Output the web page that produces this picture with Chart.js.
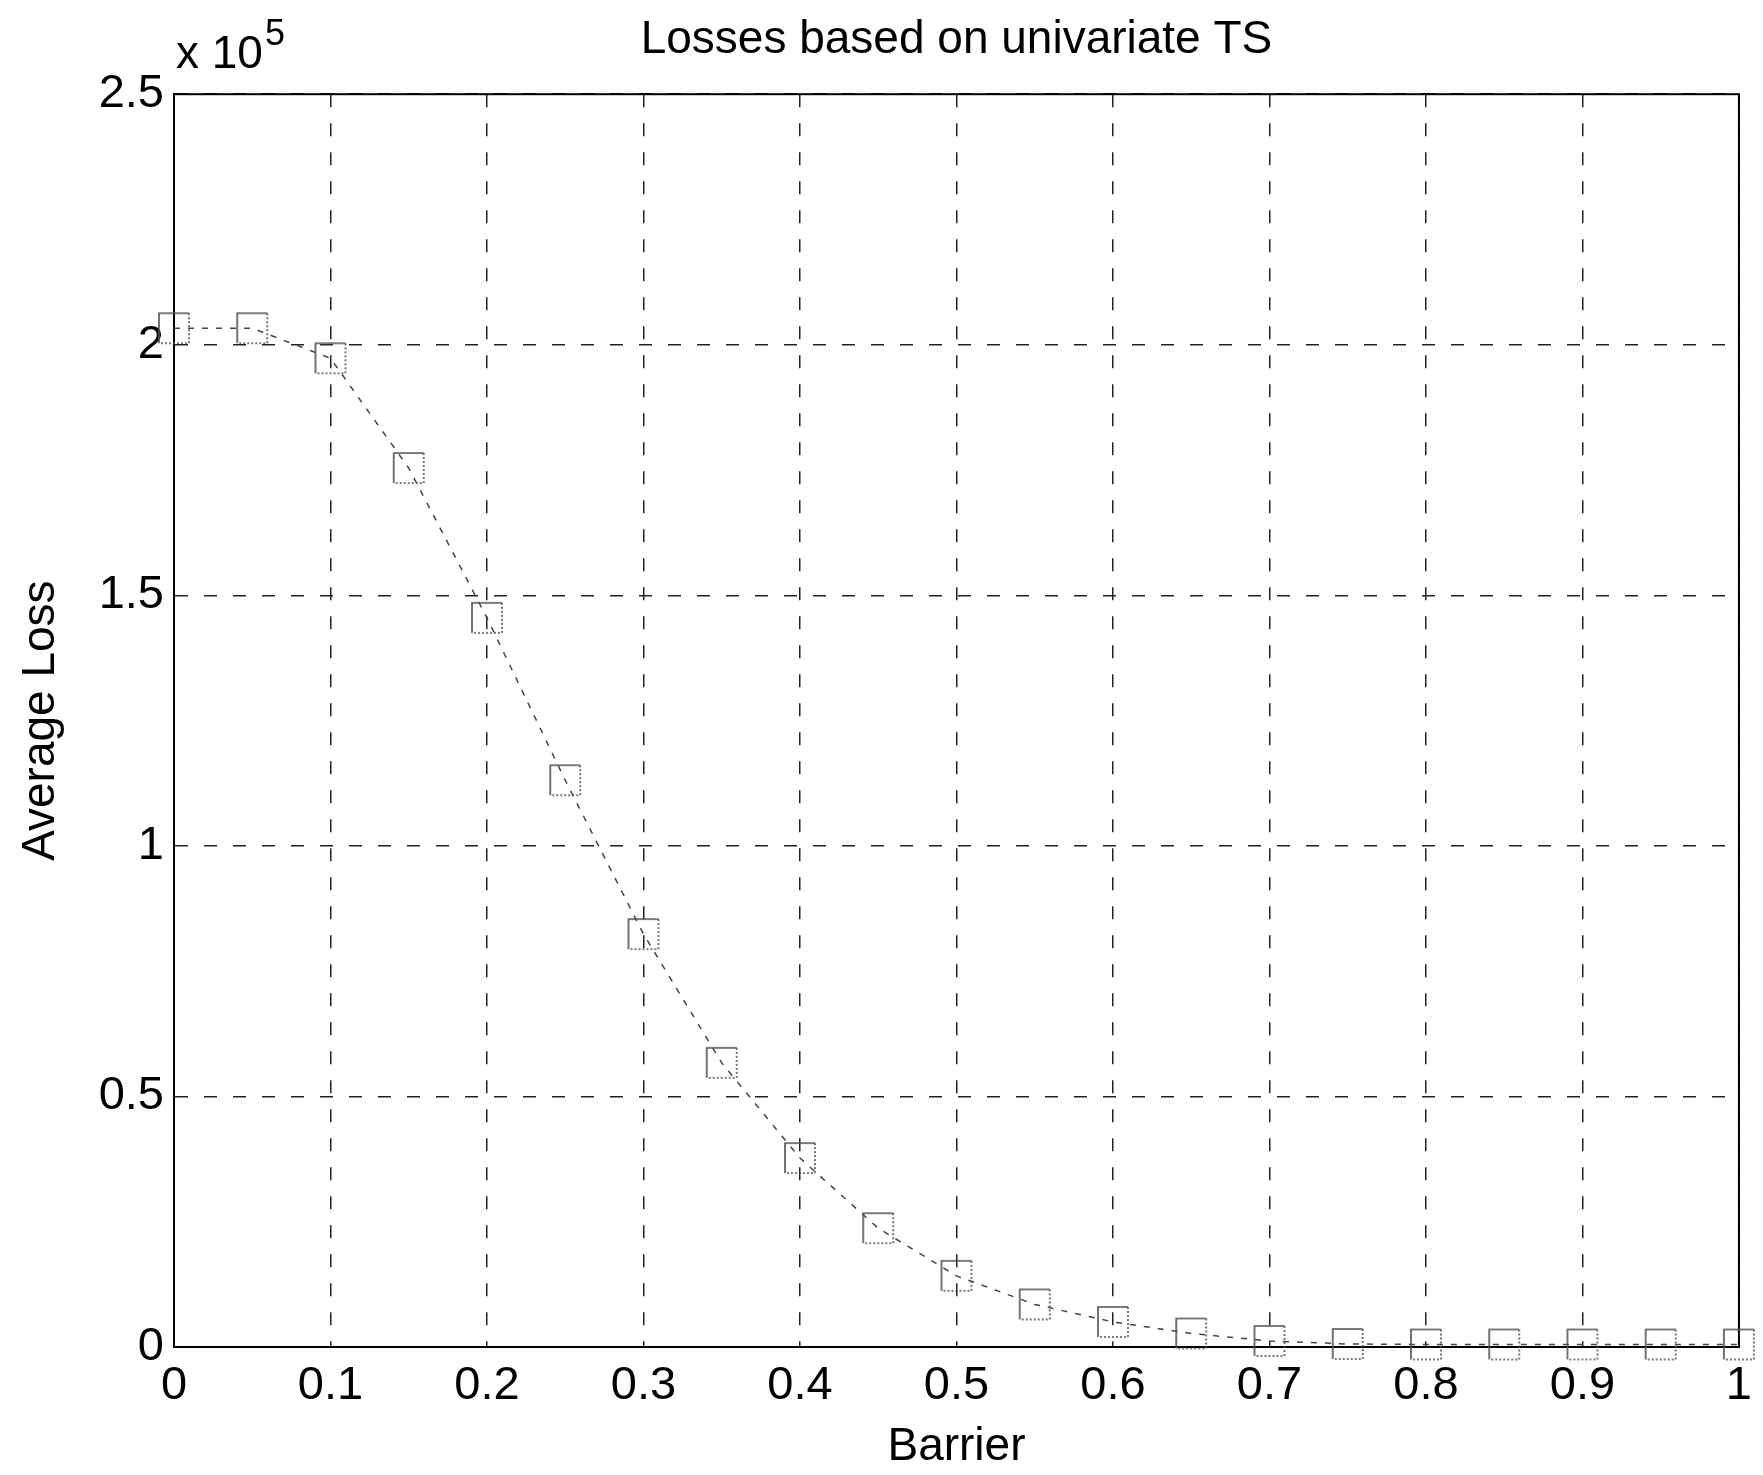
<!DOCTYPE html>
<html>
<head>
<meta charset="utf-8">
<title>Losses based on univariate TS</title>
<script src="https://cdn.jsdelivr.net/npm/chart.js@4.4.1/dist/chart.umd.min.js"></script>
<style>
  html, body { margin: 0; padding: 0; background: #ffffff; }
  #wrap { width: 1763px; height: 1475px; position: relative; }
</style>
</head>
<body>
<div id="wrap"><canvas id="chart" width="1763" height="1475"></canvas></div>
<script>
// Barrier levels and the average loss observed at each level
const barrier = [0, 0.05, 0.1, 0.15, 0.2, 0.25, 0.3, 0.35, 0.4, 0.45, 0.5,
                 0.55, 0.6, 0.65, 0.7, 0.75, 0.8, 0.85, 0.9, 0.95, 1];
const averageLoss = [203300, 203300, 197300, 175400, 145500, 113100, 82400,
                     56700, 37700, 23700, 14200, 8500, 5000, 2700, 1200,
                     600, 500, 500, 500, 500, 500];

// Axis tick labels (y values shown in units of 10^5)
const xTickLabels = ['0', '0.1', '0.2', '0.3', '0.4', '0.5', '0.6', '0.7', '0.8', '0.9', '1'];
const yTickLabels = ['0', '0.5', '1', '1.5', '2', '2.5'];

const FONT = "'Liberation Sans', Arial, Helvetica, sans-serif";

// Square marker: solid top/left edges, dotted right/bottom edges
function squareMarker(side) {
  const pad = 2;
  const c = document.createElement('canvas');
  c.width = side + pad * 2;
  c.height = side + pad * 2;
  const g = c.getContext('2d');
  g.strokeStyle = '#505050';
  g.lineWidth = 1.6;
  const a = pad, b = pad + side;
  g.beginPath();
  g.moveTo(a, b); g.lineTo(a, a); g.lineTo(b, a);
  g.stroke();
  g.setLineDash([2, 2]);
  g.beginPath();
  g.moveTo(b, a); g.lineTo(b, b); g.lineTo(a, b);
  g.stroke();
  return c;
}

// Box around the plot area plus the "x 10^5" multiplier above the y axis
const framePlugin = {
  id: 'frameAndExponent',
  beforeDatasetsDraw(chart) {
    const { ctx, chartArea: ca } = chart;
    ctx.save();
    ctx.strokeStyle = '#000000';
    ctx.lineWidth = 2;
    ctx.setLineDash([]);
    ctx.strokeRect(ca.left, ca.top, ca.right - ca.left, ca.bottom - ca.top);
    ctx.restore();
  },
  afterDraw(chart) {
    const { ctx, chartArea: ca } = chart;
    ctx.save();
    ctx.fillStyle = '#000000';
    ctx.textBaseline = 'alphabetic';
    ctx.textAlign = 'left';
    ctx.font = '46px ' + FONT;
    const base = 'x 10';
    const x0 = ca.left + 2;
    ctx.fillText(base, x0, ca.top - 26);
    const w = ctx.measureText(base).width;
    ctx.font = '36px ' + FONT;
    ctx.fillText('5', x0 + w + 2, ca.top - 49);
    ctx.restore();
  }
};

const points = barrier.map((b, i) => ({ x: b, y: averageLoss[i] }));

new Chart(document.getElementById('chart'), {
  type: 'line',
  data: {
    datasets: [{
      label: 'Average Loss',
      data: points,
      borderColor: '#444444',
      borderWidth: 1.5,
      borderDash: [6, 8],
      tension: 0,
      fill: false,
      pointStyle: squareMarker(30),
      pointRadius: 15,
      pointHoverRadius: 15,
      clip: false
    }]
  },
  options: {
    responsive: false,
    devicePixelRatio: 1,
    animation: false,
    events: [],
    layout: { padding: { left: 0, top: 0, right: 17, bottom: 0 } },
    plugins: {
      legend: { display: false },
      tooltip: { enabled: false },
      title: {
        display: true,
        fullSize: false,
        text: 'Losses based on univariate TS',
        color: '#000000',
        font: { family: FONT, size: 46, weight: 'normal', lineHeight: 1.2 },
        padding: { top: 13, bottom: 26 }
      }
    },
    scales: {
      x: {
        type: 'linear',
        position: 'bottom',
        min: 0,
        max: 1,
        afterFit(scale) { scale.height = 128; },
        afterBuildTicks(scale) {
          scale.ticks = xTickLabels.map((_, i) => ({ value: i / 10 }));
        },
        ticks: {
          color: '#000000',
          padding: 11,
          maxRotation: 0,
          autoSkip: false,
          font: { family: FONT, size: 47, lineHeight: 1.2 },
          callback: (v, i) => xTickLabels[i]
        },
        grid: { color: '#222222', lineWidth: 1.5, drawTicks: false },
        border: { display: true, color: '#000000', width: 2, dash: [13, 16] },
        title: {
          display: true,
          text: 'Barrier',
          color: '#000000',
          font: { family: FONT, size: 46, lineHeight: 1.2 },
          padding: { top: 0, bottom: 0 }
        }
      },
      y: {
        type: 'linear',
        position: 'left',
        min: 0,
        max: 250000,
        afterFit(scale) { scale.width = 174; },
        afterBuildTicks(scale) {
          scale.ticks = yTickLabels.map((_, i) => ({ value: i * 50000 }));
        },
        ticks: {
          color: '#000000',
          padding: 10,
          autoSkip: false,
          font: { family: FONT, size: 47, lineHeight: 1.2 },
          callback: (v, i) => yTickLabels[i]
        },
        grid: { color: '#222222', lineWidth: 1.5, drawTicks: false },
        border: { display: true, color: '#000000', width: 2, dash: [13, 16] },
        title: {
          display: true,
          text: 'Average Loss',
          color: '#000000',
          font: { family: FONT, size: 46, lineHeight: 1.2 },
          padding: { top: 14, bottom: 0 }
        }
      }
    }
  },
  plugins: [framePlugin]
});
</script>
</body>
</html>
